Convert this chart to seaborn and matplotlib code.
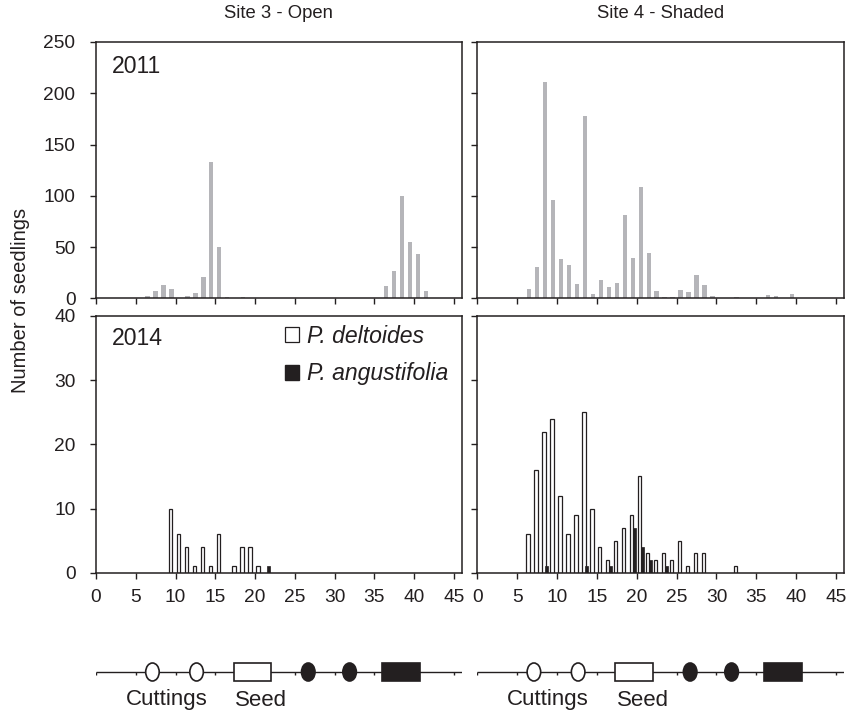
import matplotlib
matplotlib.use("Agg")
import matplotlib.pyplot as plt
from matplotlib.patches import Patch, Ellipse, Rectangle
import seaborn as sns
import pandas as pd

# ---------------- data ----------------
site3_2011_bins = [6, 7, 8, 9, 11, 12, 13, 14, 15, 16, 18, 36, 37, 38, 39, 40, 41]
site3_2011_counts = [2, 7, 13, 9, 2, 5, 21, 133, 50, 1, 1, 12, 27, 100, 55, 43, 7]

site4_2011_bins = [6, 7, 8, 9, 10, 11, 12, 13, 14, 15, 16, 17, 18, 19, 20, 21, 22,
                   23, 24, 25, 26, 27, 28, 29, 32, 36, 37, 39]
site4_2011_counts = [9, 31, 211, 96, 38, 32, 14, 178, 4, 18, 11, 15, 81, 39, 109, 44,
                     7, 1, 1, 8, 6, 23, 13, 2, 1, 3, 2, 4]

site3_2014_delt_bins = [9, 10, 11, 12, 13, 14, 15, 17, 18, 19, 20]
site3_2014_delt_counts = [10, 6, 4, 1, 4, 1, 6, 1, 4, 4, 1]
site3_2014_ang_bins = [21]
site3_2014_ang_counts = [1]

site4_2014_delt_bins = [6, 7, 8, 9, 10, 11, 12, 13, 14, 15, 16, 17, 18, 19, 20, 21,
                        22, 23, 24, 25, 26, 27, 28, 32]
site4_2014_delt_counts = [6, 16, 22, 24, 12, 6, 9, 25, 10, 4, 2, 5, 7, 9, 15, 3,
                          2, 3, 2, 5, 1, 3, 3, 1]
site4_2014_ang_bins = [8, 13, 16, 19, 20, 21, 23]
site4_2014_ang_counts = [1, 1, 1, 7, 4, 2, 1]

site_titles = ["Site 3 - Open", "Site 4 - Shaded"]
year_labels = ["2011", "2014"]
species = ["P. deltoides", "P. angustifolia"]
x_ticks = [0, 5, 10, 15, 20, 25, 30, 35, 40, 45]
y_ticks_2011 = [0, 50, 100, 150, 200, 250]
y_ticks_2014 = [0, 10, 20, 30, 40]

# schematic timeline events (x in same units as histogram axis)
cutting_events = [7.1, 12.65]
seed_span = (17.3, 22.0)
ang_cutting_events = [26.7, 31.9]
ang_seed_span = (36.0, 40.7)
timeline_labels = [("Cuttings", 8.9), ("Seed", 20.8)]

# ---------------- style ----------------
sns.set_theme(style="ticks")
plt.rcParams["font.family"] = ["Liberation Sans", "DejaVu Sans"]
INK = "#231f20"
GREY = "#b5b5b9"
plt.rcParams.update({
    "axes.edgecolor": INK, "axes.linewidth": 1.1,
    "xtick.color": INK, "ytick.color": INK,
    "xtick.major.size": 4.3, "ytick.major.size": 4.3,
    "xtick.major.width": 1.0, "ytick.major.width": 1.0,
    "xtick.direction": "out", "ytick.direction": "out",
    "text.color": INK,
})
FS = 13.3
FS_TICK = 13.8
FS_BIG = 16.6

W, H = 850, 711
fig = plt.figure(figsize=(W / 100, H / 100), dpi=100)


def fr(x0, y_top, x1, y_bot):
    return [x0 / W, 1 - y_bot / H, (x1 - x0) / W, (y_bot - y_top) / H]


ax_tl = fig.add_axes(fr(96, 42, 461.7, 298.3))
ax_tr = fig.add_axes(fr(477.3, 42, 844, 298.3))
ax_bl = fig.add_axes(fr(96, 316, 461.7, 572.7))
ax_br = fig.add_axes(fr(477.3, 316, 844, 572.7))


def bars(ax, bins, counts, offset, width, color, edge=None, lw=0):
    df = pd.DataFrame({"pos": [b + offset for b in bins], "n": counts})
    sns.barplot(data=df, x="pos", y="n", native_scale=True, width=width,
                color=color, saturation=1, edgecolor=edge if edge else color,
                linewidth=lw, errorbar=None, ax=ax)


bars(ax_tl, site3_2011_bins, site3_2011_counts, 0.5, 0.55, GREY)
bars(ax_tr, site4_2011_bins, site4_2011_counts, 0.5, 0.55, GREY)
bars(ax_bl, site3_2014_delt_bins, site3_2014_delt_counts, 0.37, 0.42, "white", INK, 0.9)
bars(ax_bl, site3_2014_ang_bins, site3_2014_ang_counts, 0.7, 0.42, INK, INK, 0.5)
bars(ax_br, site4_2014_delt_bins, site4_2014_delt_counts, 0.37, 0.42, "white", INK, 0.9)
bars(ax_br, site4_2014_ang_bins, site4_2014_ang_counts, 0.7, 0.42, INK, INK, 0.5)

for ax, top in [(ax_tl, True), (ax_tr, True), (ax_bl, False), (ax_br, False)]:
    ax.set_xlim(0, 46)
    ax.set_xticks(x_ticks)
    ax.set_xlabel("")
    ax.set_ylabel("")
    for s in ax.spines.values():
        s.set_visible(True)
        s.set_color(INK)
    if top:
        ax.set_ylim(0, 250)
        ax.set_yticks(y_ticks_2011)
        ax.set_xticklabels([])
    else:
        ax.set_ylim(0, 40)
        ax.set_yticks(y_ticks_2014)
        ax.set_xticklabels([str(t) for t in x_ticks], fontsize=FS_TICK)
    ax.tick_params(axis="x", pad=7.5)
    ax.tick_params(axis="y", pad=10.5)

for ax in (ax_tl, ax_bl):
    for lab in ax.get_yticklabels():
        lab.set_fontsize(FS_TICK)
for ax in (ax_tr, ax_br):
    ax.set_yticklabels([])

ax_tl.text(0.043, 0.903, year_labels[0], transform=ax_tl.transAxes,
           fontsize=FS_BIG, va="center", ha="left")
ax_bl.text(0.043, 0.911, year_labels[1], transform=ax_bl.transAxes,
           fontsize=FS_BIG, va="center", ha="left")

handles = [Patch(facecolor="white", edgecolor=INK, linewidth=0.9),
           Patch(facecolor=INK, edgecolor=INK)]
ax_bl.legend(handles, species, loc="upper left", bbox_to_anchor=(0.517, 0.965),
             frameon=False, handlelength=0.62, handleheight=0.62, handletextpad=0.35,
             labelspacing=0.62, borderpad=0, borderaxespad=0,
             prop={"style": "italic", "size": FS_BIG})

fig.text(278.9 / W, 1 - 14 / H, site_titles[0], ha="center", va="center", fontsize=FS)
fig.text(660.6 / W, 1 - 14 / H, site_titles[1], ha="center", va="center", fontsize=FS)
fig.text(21 / W, 1 - 300 / H, "Number of seedlings", rotation=90,
         ha="center", va="center", fontsize=14.5)

# ---------------- schematic timelines ----------------
for x0, x1 in [(96, 461.7), (477.3, 844)]:
    sx = fig.add_axes([x0 / W, 0, (x1 - x0) / W, 61 / H])
    sx.set_xlim(0, 46)
    sx.set_ylim(0, 61)
    sx.axis("off")
    ly = 39
    sx.plot([0, 46], [ly, ly], color=INK, lw=1.0, solid_capstyle="butt")
    sx.vlines(x_ticks, ly - 3, ly, color=INK, lw=1.0)
    for cx in cutting_events:
        sx.add_patch(Ellipse((cx, ly), 1.7, 18, facecolor="white", edgecolor=INK, lw=1.2, zorder=3))
    for cx in ang_cutting_events:
        sx.add_patch(Ellipse((cx, ly), 1.7, 18, facecolor=INK, edgecolor=INK, lw=1.2, zorder=3))
    sx.add_patch(Rectangle((seed_span[0], ly - 9), seed_span[1] - seed_span[0], 18,
                           facecolor="white", edgecolor=INK, lw=1.2, zorder=3))
    sx.add_patch(Rectangle((ang_seed_span[0], ly - 9), ang_seed_span[1] - ang_seed_span[0], 18,
                           facecolor=INK, edgecolor=INK, lw=1.2, zorder=3))
    for txt, tx in timeline_labels:
        sx.text(tx, 11, txt, ha="center", va="center", fontsize=16)

fig.savefig("out.png", dpi=100)
